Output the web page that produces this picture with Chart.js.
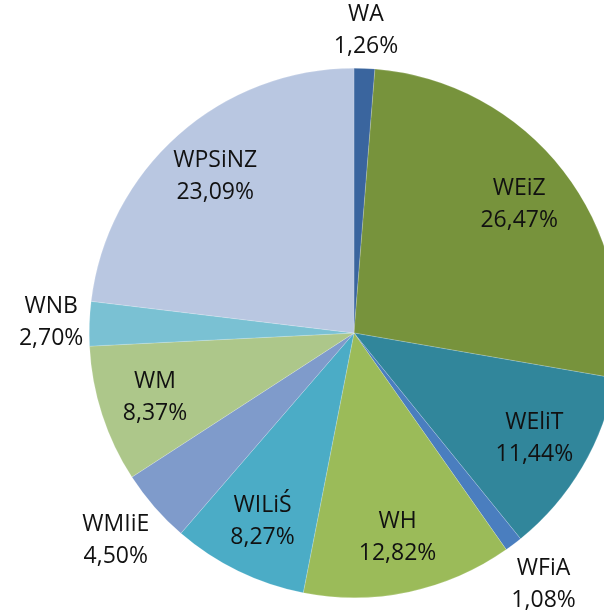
<!DOCTYPE html>
<html>
<head>
<meta charset="utf-8">
<script src="https://cdn.jsdelivr.net/npm/chart.js@4/dist/chart.umd.min.js"></script>
<style>
  html, body { margin: 0; padding: 0; background: #fff; overflow: hidden; }
  #wrap { position: relative; width: 640px; height: 614px; }
</style>
</head>
<body>
<div id="wrap"><canvas id="wydzialyChart"></canvas></div>
<script>
// Dane wykresu
var wydzialy = ['WA', 'WEiZ', 'WEliT', 'WFiA', 'WH', 'WILiŚ', 'WMIiE', 'WM', 'WNB', 'WPSiNZ'];
var udzialy = [1.26, 26.47, 11.44, 1.08, 12.82, 8.27, 4.50, 8.37, 2.70, 23.09];
var kolory = ['#3A659E', '#77933C', '#31869B', '#4A7EBF', '#9BBB59',
              '#4BACC6', '#7F9BCB', '#ADC78A', '#7AC1D3', '#B9C7E1'];

function formatuj(v) {
    return v.toFixed(2).replace('.', ',') + '%';
}

// Etykiety: w środku dla dużych wycinków, na zewnątrz dla małych
var etykietyPlugin = {
    id: 'etykiety',
    afterDatasetsDraw: function (chart) {
        var ctx = chart.ctx;
        var meta = chart.getDatasetMeta(0);
        ctx.save();
        ctx.font = '23px "Open Sans", sans-serif';
        ctx.fillStyle = '#111';
        ctx.textAlign = 'center';
        ctx.textBaseline = 'middle';
        var lh = 32;
        meta.data.forEach(function (arc, i) {
            var p = arc.getProps(['x', 'y', 'startAngle', 'endAngle', 'outerRadius'], true);
            var a = (p.startAngle + p.endAngle) / 2;
            var ux = Math.cos(a), uy = Math.sin(a);
            var l1 = wydzialy[i], l2 = formatuj(udzialy[i]);
            var d;
            if (udzialy[i] < 5) {
                var hw = Math.max(ctx.measureText(l1).width, ctx.measureText(l2).width) / 2;
                d = p.outerRadius + 5 + Math.abs(ux) * hw + Math.abs(uy) * lh;
            } else {
                d = p.outerRadius * 0.79;
            }
            var cx = p.x + ux * d, cy = p.y + uy * d;
            ctx.fillText(l1, cx, cy - lh / 2);
            ctx.fillText(l2, cx, cy + lh / 2);
        });
        ctx.restore();
    }
};

var ctx = document.getElementById('wydzialyChart').getContext('2d');
new Chart(ctx, {
    type: 'pie',
    data: {
        labels: wydzialy,
        datasets: [{
            data: udzialy,
            backgroundColor: kolory,
            borderColor: 'rgba(255,255,255,0.35)',
            borderWidth: 0.5
        }]
    },
    options: {
        responsive: true,
        maintainAspectRatio: false,
        animation: false,
        layout: { padding: { left: 89, top: 68, right: 21, bottom: 16 } },
        plugins: {
            legend: { display: false },
            tooltip: { enabled: false }
        }
    },
    plugins: [etykietyPlugin]
});
</script>
</body>
</html>
